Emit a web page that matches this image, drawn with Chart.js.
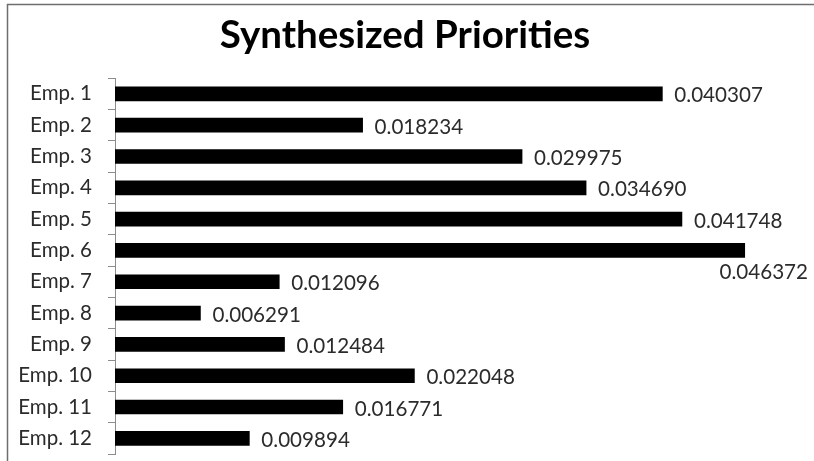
<!DOCTYPE html>
<html>
<head>
<meta charset="utf-8">
<script src="https://cdn.jsdelivr.net/npm/chart.js@4/dist/chart.umd.min.js"></script>
<style>
  html, body { margin: 0; padding: 0; background: #fff; }
  #wrap { position: relative; width: 814px; height: 461px; }
</style>
</head>
<body>
<div id="wrap"><canvas id="c" width="814" height="461"></canvas></div>
<script>
const categories = ['Emp. 1', 'Emp. 2', 'Emp. 3', 'Emp. 4', 'Emp. 5', 'Emp. 6',
                    'Emp. 7', 'Emp. 8', 'Emp. 9', 'Emp. 10', 'Emp. 11', 'Emp. 12'];
const priorities = [0.040307, 0.018234, 0.029975, 0.034690, 0.041748, 0.046372,
                    0.012096, 0.006291, 0.012484, 0.022048, 0.016771, 0.009894];
const titleText = 'Synthesized Priorities';

const FONT = 'Lato, "Open Sans", sans-serif';

// Thin frame around the chart area (left and top edges)
const framePlugin = {
  id: 'frame',
  beforeDraw(chart) {
    const ctx = chart.ctx;
    ctx.save();
    ctx.fillStyle = '#fff';
    ctx.fillRect(0, 0, chart.width, chart.height);
    ctx.strokeStyle = '#6e6e6e';
    ctx.lineWidth = 1.5;
    ctx.beginPath();
    ctx.moveTo(7.5, chart.height + 2);
    ctx.lineTo(7.5, 4.5);
    ctx.lineTo(chart.width + 2, 4.5);
    ctx.stroke();
    ctx.restore();
  }
};

// Value labels at the end of each bar; a label that would run off the
// canvas is tucked under its bar instead.
const valueLabels = {
  id: 'valueLabels',
  afterDatasetsDraw(chart) {
    const ctx = chart.ctx;
    const meta = chart.getDatasetMeta(0);
    const data = chart.data.datasets[0].data;
    ctx.save();
    ctx.font = '20.6px ' + FONT;
    ctx.fillStyle = '#2b2b2b';
    ctx.textBaseline = 'middle';
    meta.data.forEach((bar, i) => {
      const txt = data[i].toFixed(6);
      const w = ctx.measureText(txt).width;
      if (bar.x + 12 + w > chart.width - 4) {
        ctx.textAlign = 'right';
        ctx.fillText(txt, chart.width - 6, bar.y + 22);
      } else {
        ctx.textAlign = 'left';
        ctx.fillText(txt, bar.x + 12, bar.y + 2);
      }
    });
    ctx.restore();
  }
};

new Chart(document.getElementById('c'), {
  type: 'bar',
  data: {
    labels: categories,
    datasets: [{
      data: priorities,
      backgroundColor: '#000',
      borderWidth: 0,
      barThickness: 14
    }]
  },
  options: {
    indexAxis: 'y',
    responsive: false,
    animation: false,
    layout: { padding: { left: 16, right: 20, top: 0, bottom: 7 } },
    plugins: {
      legend: { display: false },
      tooltip: { enabled: false },
      title: {
        display: true,
        text: titleText,
        color: '#000',
        font: { family: FONT, size: 38.5, weight: 'bold', lineHeight: 1.2 },
        padding: { top: 12, bottom: 20 }
      }
    },
    scales: {
      x: {
        display: false,
        min: 0,
        max: 0.05
      },
      y: {
        afterFit(scale) {
          scale.width = 99;
          scale.paddingTop = 0;
          scale.paddingBottom = 0;
        },
        border: { display: true, color: '#8c8c8c', width: 1 },
        grid: {
          display: true,
          drawOnChartArea: false,
          drawTicks: true,
          tickLength: 7,
          color: '#8c8c8c',
          offset: true
        },
        ticks: {
          color: '#2b2b2b',
          padding: 16,
          font: { family: FONT, size: 20.5 }
        }
      }
    }
  },
  plugins: [framePlugin, valueLabels]
});
</script>
</body>
</html>
